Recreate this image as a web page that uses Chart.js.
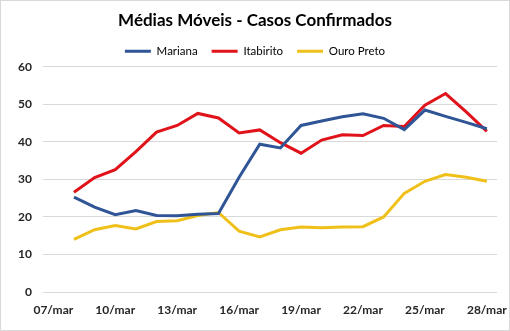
<!DOCTYPE html>
<html lang="pt">
<head>
  <meta charset="UTF-8">
  <title>Médias Móveis - Casos Confirmados</title>
  <script src="https://cdn.jsdelivr.net/npm/chart.js"></script>
  <style>
    body {
      margin: 0;
      background: white;
    }

    .quadro {
      position: relative;
      width: 510px;
      height: 331px;
    }

    .moldura {
      position: absolute;
      left: 0;
      top: 0;
      width: 510px;
      height: 331px;
      box-sizing: border-box;
      border: 1px solid #d9d9d9;
      pointer-events: none;
    }
  </style>
</head>
<body>
  <div class="quadro">
    <canvas id="grafico" width="510" height="331"></canvas>
    <div class="moldura"></div>
  </div>

  <script>
    // dias de 07/mar a 28/mar (o primeiro dia ainda não tem média)
    const dias = ['07/mar', '08/mar', '09/mar', '10/mar', '11/mar', '12/mar', '13/mar', '14/mar',
      '15/mar', '16/mar', '17/mar', '18/mar', '19/mar', '20/mar', '21/mar', '22/mar',
      '23/mar', '24/mar', '25/mar', '26/mar', '27/mar', '28/mar'];

    const mariana = [null, 25.3, 22.6, 20.6, 21.7, 20.4, 20.3, 20.7, 20.9, 30.6, 39.4,
      38.4, 44.4, 45.6, 46.7, 47.5, 46.3, 43.3, 48.5, 46.8, 45.2, 43.5];
    const itabirito = [null, 26.6, 30.5, 32.6, 37.4, 42.6, 44.4, 47.6, 46.4, 42.4, 43.2,
      39.8, 37.0, 40.5, 41.9, 41.7, 44.4, 44.1, 49.8, 52.9, 48.0, 42.8];
    const ouroPreto = [null, 14.0, 16.6, 17.7, 16.8, 18.8, 19.0, 20.4, 21.2, 16.2, 14.7,
      16.6, 17.3, 17.1, 17.3, 17.4, 20.0, 26.3, 29.5, 31.3, 30.6, 29.5];

    const fonte = 'Lato, "Open Sans", sans-serif';

    function serie(nome, valores, cor) {
      return {
        label: nome,
        data: valores,
        borderColor: cor,
        backgroundColor: cor,
        borderWidth: 3,
        pointRadius: 0,
        tension: 0,
        spanGaps: false
      };
    }

    const ctx = document.getElementById('grafico').getContext('2d');

    new Chart(ctx, {
      type: 'line',
      data: {
        labels: dias,
        datasets: [
          serie('Mariana', mariana, '#2f5597'),
          serie('Itabirito', itabirito, '#e0131b'),
          serie('Ouro Preto', ouroPreto, '#f0c01a')
        ]
      },
      options: {
        responsive: false,
        animation: false,
        layout: {
          padding: { left: 12, right: 12, top: 0, bottom: 0 }
        },
        plugins: {
          title: {
            display: true,
            text: 'Médias Móveis - Casos Confirmados',
            color: '#000',
            font: { family: fonte, size: 17, weight: 'bold' },
            padding: { top: 10, bottom: 1 }
          },
          legend: {
            position: 'top',
            labels: {
              color: '#000',
              font: { family: fonte, size: 11.5 },
              boxWidth: 26,
              boxHeight: 3,
              padding: 14,
              generateLabels(chart) {
                const itens = Chart.defaults.plugins.legend.labels.generateLabels(chart);
                itens.forEach(i => { i.lineWidth = 0; });
                return itens;
              }
            }
          },
          tooltip: { enabled: false }
        },
        scales: {
          x: {
            offset: true,
            grid: { display: false },
            border: { display: false },
            afterFit(scale) { scale.height = 39; },
            ticks: {
              autoSkip: false,
              maxRotation: 0,
              padding: 3,
              color: '#262626',
              font: { family: fonte, size: 12, weight: 'bold' },
              callback(valor, indice) {
                return indice % 3 === 0 ? dias[indice] : '';
              }
            }
          },
          y: {
            min: 0,
            max: 60,
            border: { display: false },
            grid: { color: '#d9d9d9', drawTicks: false },
            afterFit(scale) { scale.width = 31; },
            ticks: {
              stepSize: 10,
              padding: 11,
              color: '#262626',
              font: { family: fonte, size: 12, weight: 'bold' }
            }
          }
        }
      }
    });
  </script>
</body>
</html>
